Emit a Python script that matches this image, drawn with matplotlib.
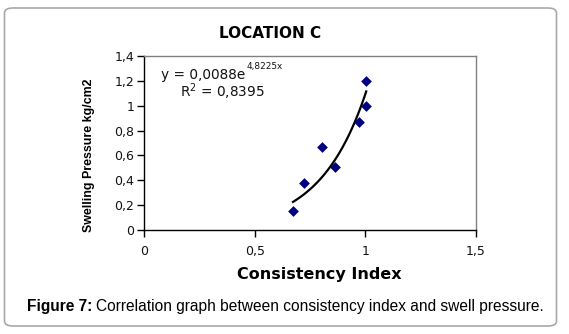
import numpy as np
import matplotlib
matplotlib.use("Agg")
import matplotlib.pyplot as plt
from matplotlib.patches import FancyBboxPatch

# Data
consistency_index = [0.673, 0.723, 0.806, 0.864, 0.970, 1.004, 1.004]
swelling_pressure = [0.155, 0.38, 0.67, 0.505, 0.87, 1.0, 1.2]
fit_a = 0.0088
fit_b = 4.8225
x_ticks = [0, 0.5, 1, 1.5]
x_tick_labels = ["0", "0,5", "1", "1,5"]
y_ticks = [0, 0.2, 0.4, 0.6, 0.8, 1.0, 1.2, 1.4]
y_tick_labels = ["0", "0,2", "0,4", "0,6", "0,8", "1", "1,2", "1,4"]

W, H = 569, 334
fig = plt.figure(figsize=(W / 100, H / 100), dpi=100)
fig.patch.set_facecolor("white")

# Rounded border
border = FancyBboxPatch((4.5 / W, 8 / H), 552 / W, 318 / H,
                        boxstyle="round,pad=0,rounding_size=0.015",
                        transform=fig.transFigure, fill=False,
                        edgecolor="#a8a8a8", linewidth=1.2)
fig.patches.append(border)

ax = fig.add_axes([144 / W, 1 - 230 / H, (476 - 144) / W, (230 - 56) / H])
ax.set_xlim(0, 1.5)
ax.set_ylim(0, 1.4)

ax.scatter(consistency_index, swelling_pressure, marker="D", s=30,
           color="#000080", zorder=3, linewidths=0)

xf = np.linspace(min(consistency_index), max(consistency_index), 100)
ax.plot(xf, fit_a * np.exp(fit_b * xf), color="black", linewidth=1.6, zorder=2)

ax.set_xticks(x_ticks)
ax.set_xticklabels(x_tick_labels)
ax.set_yticks(y_ticks)
ax.set_yticklabels(y_tick_labels)
for lab in ax.get_xticklabels() + ax.get_yticklabels():
    lab.set_fontfamily("DejaVu Sans")
    lab.set_fontsize(9)
    lab.set_color("#111111")
ax.tick_params(axis="both", direction="out", length=5, width=1, color="black")
ax.tick_params(axis="x", pad=6)
ax.tick_params(axis="y", pad=2)

for s in ["left", "bottom"]:
    ax.spines[s].set_color("black")
    ax.spines[s].set_linewidth(1)
for s in ["top", "right"]:
    ax.spines[s].set_color("#808080")
    ax.spines[s].set_linewidth(1)

# Equation text
eq = fig.text(161 / W, 1 - 74.5 / H, "y = 0,0088e", ha="left", va="center",
              fontsize=9.8, family="DejaVu Sans", color="#111111")
fig.canvas.draw()
eb = eq.get_window_extent()
fig.text((eb.x1 + 1) / W, 1 - 66 / H, "4,8225x", ha="left", va="center",
         fontsize=6.4, family="DejaVu Sans", color="#111111")
fig.text(180 / W, 1 - 91.5 / H, r"R$^{2}$ = 0,8395", ha="left", va="center",
         fontsize=9.8, family="DejaVu Sans", color="#111111")

# Title
fig.text(270 / W, 1 - 33 / H, "LOCATION C", ha="center", va="center",
         fontsize=11, family="DejaVu Sans", weight="bold")

# Axis labels
fig.text(319 / W, 1 - 274 / H, "Consistency Index", ha="center", va="center",
         fontsize=11.5, family="DejaVu Sans", weight="bold")
fig.text(89 / W, 1 - 155 / H, "Swelling Pressure kg/cm2", ha="center", va="center",
         rotation=90, fontsize=8.9, family="Liberation Sans", weight="bold")

# Caption
cap_y = 1 - 307 / H
t1 = fig.text(27 / W, cap_y, "Figure 7:", ha="left", va="center",
              fontsize=11.2, family="Liberation Sans", weight="bold")
fig.canvas.draw()
bb = t1.get_window_extent()
fig.text(bb.x1 / W + 4 / W, cap_y,
         "Correlation graph between consistency index and swell pressure.",
         ha="left", va="center", fontsize=11.2, family="Liberation Sans")

fig.savefig("out.png", dpi=100)
